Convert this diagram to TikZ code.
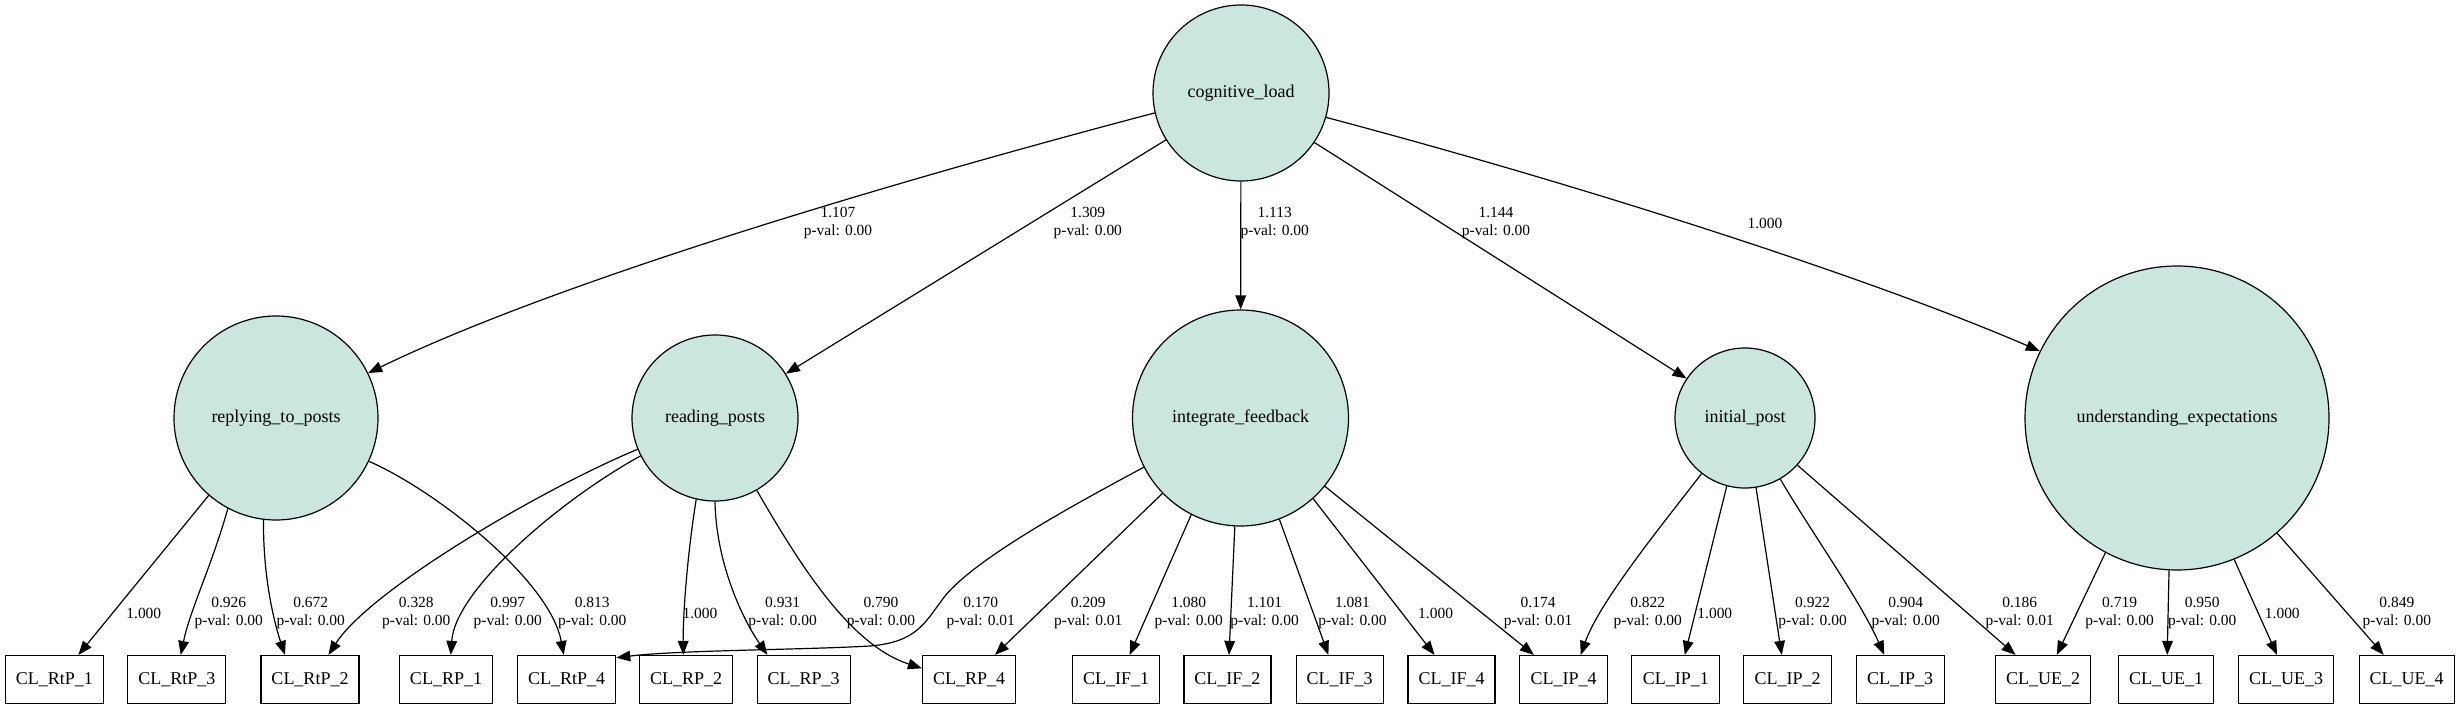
\documentclass[tikz,border=0pt]{standalone}
\usepackage{fontspec}
\setmainfont{Liberation Serif}
\usetikzlibrary{arrows.meta,calc}
\definecolor{latfill}{RGB}{202,230,223}
\tikzset{
  lat/.style={circle,draw,fill=latfill,line width=0.9pt,inner sep=0pt,font=\fontsize{13.5}{16}\selectfont},
  obs/.style={rectangle,draw,line width=0.9pt,minimum height=36pt,inner sep=0pt,font=\fontsize{13.5}{16}\selectfont},
  lbl/.style={align=center,inner sep=0pt,font=\fontsize{11.6}{14}\selectfont},
  edge/.style={line width=0.9pt,-{Triangle[length=10.5pt,width=8pt]}},
}
\begin{document}
\begin{tikzpicture}[x=0.75pt,y=-0.75pt]
\useasboundingbox (0,0) rectangle (2458,709);
% latent variables
\node[lat,minimum size=132pt] (cl) at (1241,93) {cognitive\_load};
\node[lat,minimum size=153pt] (rtp) at (276,418) {replying\_to\_posts};
\node[lat,minimum size=124.5pt] (rp) at (715,418) {reading\_posts};
\node[lat,minimum size=162pt] (if) at (1240.5,418) {integrate\_feedback};
\node[lat,minimum size=105pt] (ip) at (1745,418) {initial\_post};
\node[lat,minimum size=228pt] (ue) at (2177,418) {understanding\_expectations};
% observed variables
\node[obs,minimum width=73.5pt] (RtP1) at (54.4,679.5) {CL\_RtP\_1};
\node[obs,minimum width=73.5pt] (RtP3) at (176.8,679.5) {CL\_RtP\_3};
\node[obs,minimum width=73.5pt] (RtP2) at (310,679.5) {CL\_RtP\_2};
\node[obs,minimum width=69.75pt] (RP1) at (446,679.5) {CL\_RP\_1};
\node[obs,minimum width=73.5pt] (RtP4) at (566.7,679.5) {CL\_RtP\_4};
\node[obs,minimum width=69.75pt] (RP2) at (686.2,679.5) {CL\_RP\_2};
\node[obs,minimum width=69.75pt] (RP3) at (803.7,679.5) {CL\_RP\_3};
\node[obs,minimum width=69.75pt] (RP4) at (969,679.5) {CL\_RP\_4};
\node[obs,minimum width=65.25pt] (IF1) at (1116,679.5) {CL\_IF\_1};
\node[obs,minimum width=65.25pt] (IF2) at (1227.4,679.5) {CL\_IF\_2};
\node[obs,minimum width=65.25pt] (IF3) at (1339.6,679.5) {CL\_IF\_3};
\node[obs,minimum width=65.25pt] (IF4) at (1451.5,679.5) {CL\_IF\_4};
\node[obs,minimum width=66pt] (IP4) at (1563.7,679.5) {CL\_IP\_4};
\node[obs,minimum width=66pt] (IP1) at (1675.8,679.5) {CL\_IP\_1};
\node[obs,minimum width=66pt] (IP2) at (1787.7,679.5) {CL\_IP\_2};
\node[obs,minimum width=66pt] (IP3) at (1900.2,679.5) {CL\_IP\_3};
\node[obs,minimum width=71.25pt] (UE2) at (2043,679.5) {CL\_UE\_2};
\node[obs,minimum width=71.25pt] (UE1) at (2166,679.5) {CL\_UE\_1};
\node[obs,minimum width=71.25pt] (UE3) at (2286,679.5) {CL\_UE\_3};
\node[obs,minimum width=71.25pt] (UE4) at (2406.7,679.5) {CL\_UE\_4};
% structural edges
\draw[edge] (cl.193.9) .. controls (900,180) and (560,280) .. (rtp.26.6);
\draw[edge] (cl.212.7) -- (rp.32.6);
\draw[edge] (cl) -- (if);
\draw[edge] (cl.326) -- (ip.146.7);
\draw[edge] (cl.344.9) .. controls (1600,190) and (1880,282) .. (ue.154.8);
% measurement edges
\draw[edge] (rtp.229.9) -- ($(RtP1.north)+(24,0)$);
\draw[edge] (rtp.242.9) .. controls (212,565) and (190,610) .. ($(RtP3.north)+(4,0)$);
\draw[edge] (rtp.263.3) .. controls (263,580) and (275,625) .. ($(RtP2.north)+(-25,0)$);
\draw[edge] (rtp.335.9) .. controls (435,490) and (550,580) .. ($(RtP4.north)+(-3,0)$);
\draw[edge] (rp.202.7) .. controls (540,490) and (370,590) .. ($(RtP2.north)+(18.5,0)$);
\draw[edge] (rp.207.8) .. controls (560,500) and (455,590) .. ($(RP1.north)+(4.8,0)$);
\draw[edge] (rp.257) .. controls (688,550) and (683,610) .. ($(RP2.north)+(-3,0)$);
\draw[edge] (rp.270.5) .. controls (716,560) and (740,615) .. ($(RP3.north)+(-36.4,0)$);
\draw[edge] (rp.300.1) .. controls (800,565) and (850,645) .. ($(RP4.west)+(0,-11.2)$);
\draw[edge] (if.207) .. controls (1060,512) and (975,560) .. (945,596)
   .. controls (925,622) and (918,642) .. (870,646)
   .. controls (800,650) and (680,650) .. ($(RtP4.east)+(0,-21.8)$);
\draw[edge] (if.224) -- ($(RP4.north)+(26,0)$);
\draw[edge] (if.243.9) -- ($(IF1.north)+(13.6,0)$);
\draw[edge] (if.267.5) -- ($(IF2.north)+(1.6,0)$);
\draw[edge] (if.291.2) -- ($(IF3.north)+(-11.2,0)$);
\draw[edge] (if.312.2) -- ($(IF4.north)+(-17,0)$);
\draw[edge] (if.321.1) -- ($(IP4.north)+(-29.8,0)$);
\draw[edge] (ip.232.4) .. controls (1670,515) and (1600,600) .. ($(IP4.north)+(17,0)$);
\draw[edge] (ip.255.1) -- ($(IP1.north)+(9,0)$);
\draw[edge] (ip.279.5) -- ($(IP2.north)+(-6,0)$);
\draw[edge] (ip.300.6) .. controls (1810,530) and (1860,600) .. ($(IP3.north)+(-16,0)$);
\draw[edge] (ip.318.6) -- ($(UE2.north)+(-27.5,0)$);
\draw[edge] (ue.242.6) -- ($(UE2.north)+(13.8,0)$);
\draw[edge] (ue.267.7) -- ($(UE1.north)+(1.2,0)$);
\draw[edge] (ue.292.6) -- ($(UE3.north)+(-9,0)$);
\draw[edge] (ue.311.2) -- ($(UE4.north)+(-23,0)$);
% labels
\node[lbl] (t1) at (838,223) {1.107\\p-val: 0.00};
\node[lbl] (t2) at (1087.8,223) {1.309\\p-val: 0.00};
\node[lbl] (t3) at (1274.7,223) {1.113\\p-val: 0.00};
\node[lbl] (t4) at (1496,223) {1.144\\p-val: 0.00};
\node[lbl] (t5) at (1765,223.3) {1.000};
\node[lbl] (b1) at (143.8,613) {1.000};
\node[lbl] (b2) at (228.7,613) {0.926\\p-val: 0.00};
\node[lbl] (b3) at (310.7,613) {0.672\\p-val: 0.00};
\node[lbl] (b4) at (416.3,613) {0.328\\p-val: 0.00};
\node[lbl] (b5) at (507.8,613) {0.997\\p-val: 0.00};
\node[lbl] (b6) at (592.2,613) {0.813\\p-val: 0.00};
\node[lbl] (b7) at (700,613) {1.000};
\node[lbl] (b8) at (782.6,613) {0.931\\p-val: 0.00};
\node[lbl] (b9) at (880.9,613) {0.790\\p-val: 0.00};
\node[lbl] (b10) at (980.7,613) {0.170\\p-val: 0.01};
\node[lbl] (b11) at (1088.3,613) {0.209\\p-val: 0.01};
\node[lbl] (b12) at (1188.7,613) {1.080\\p-val: 0.00};
\node[lbl] (b13) at (1264.6,613) {1.101\\p-val: 0.00};
\node[lbl] (b14) at (1352.4,613) {1.081\\p-val: 0.00};
\node[lbl] (b15) at (1435.6,613) {1.000};
\node[lbl] (b16) at (1538.1,613) {0.174\\p-val: 0.01};
\node[lbl] (b17) at (1647.7,613) {0.822\\p-val: 0.00};
\node[lbl] (b18) at (1714.8,613) {1.000};
\node[lbl] (b19) at (1812.6,613) {0.922\\p-val: 0.00};
\node[lbl] (b20) at (1905.7,613) {0.904\\p-val: 0.00};
\node[lbl] (b21) at (2019.7,613) {0.186\\p-val: 0.01};
\node[lbl] (b22) at (2119.6,613) {0.719\\p-val: 0.00};
\node[lbl] (b23) at (2202.2,613) {0.950\\p-val: 0.00};
\node[lbl] (b24) at (2282.3,613) {1.000};
\node[lbl] (b25) at (2396.8,613) {0.849\\p-val: 0.00};
\end{tikzpicture}
\end{document}
